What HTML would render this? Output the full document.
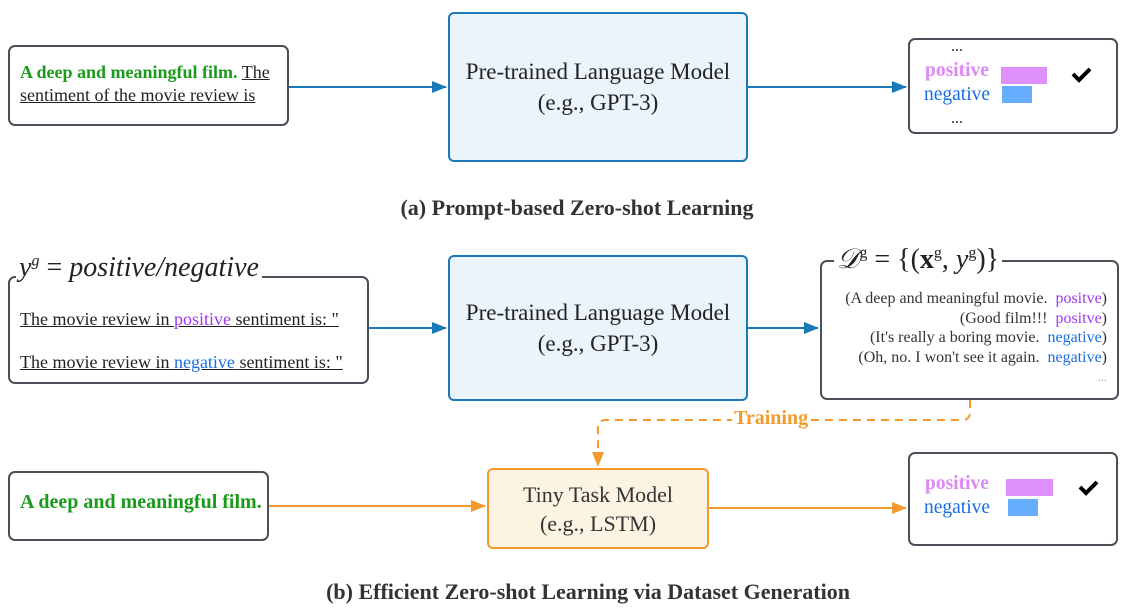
<!DOCTYPE html>
<html><head><meta charset="utf-8"><style>
body{margin:0;width:1132px;height:612px;background:#fff;position:relative;overflow:hidden;font-family:"Liberation Serif",serif;color:#222}
.b{position:absolute;box-sizing:border-box;border:2px solid #4a5058;border-radius:7px;background:#fff}
.big{position:absolute;box-sizing:border-box;border:2px solid #1a7ab5;border-radius:6px;background:#ebf4fb;display:flex;align-items:center;justify-content:center;text-align:center;font-size:23px;line-height:31px;color:#222}
.t{position:absolute;white-space:nowrap}
.cap{position:absolute;width:1132px;text-align:center;font-weight:bold;font-size:22px;color:#333}
.pos{color:#dd88f5}.neg{color:#1a6ee0}
u{text-decoration:underline}
</style></head><body>
<svg width="1132" height="612" style="position:absolute;left:0;top:0">
<defs>
<marker id="ab" markerWidth="15" markerHeight="12" refX="14" refY="6" orient="auto" markerUnits="userSpaceOnUse"><path d="M0,0L15,6L0,12z" fill="#1a7ab5"/></marker>
<marker id="ao" markerWidth="15" markerHeight="12" refX="14" refY="6" orient="auto" markerUnits="userSpaceOnUse"><path d="M0,0L15,6L0,12z" fill="#f39a2e"/></marker>
</defs>
<g stroke="#1a7ab5" stroke-width="2" fill="none">
<line x1="288" y1="87" x2="446" y2="87" marker-end="url(#ab)"/>
<line x1="748" y1="87" x2="906" y2="87" marker-end="url(#ab)"/>
<line x1="368" y1="328" x2="446" y2="328" marker-end="url(#ab)"/>
<line x1="748" y1="328" x2="818" y2="328" marker-end="url(#ab)"/>
</g>
<g stroke="#f39a2e" stroke-width="2" fill="none">
<line x1="268" y1="506" x2="485" y2="506" marker-end="url(#ao)"/>
<line x1="708" y1="508" x2="906" y2="508" marker-end="url(#ao)"/>
<path d="M970,400 V412 Q970,420 962,420 H606 Q598,420 598,428 V466" stroke-dasharray="8,6" marker-end="url(#ao)"/>
</g>
</svg>

<!-- top -->
<div class="b" style="left:8px;top:45px;width:281px;height:81px"></div>
<div class="t" style="left:20px;top:61px;font-size:18px;line-height:23px"><b style="color:#1a9a1a">A deep and meaningful film.</b> <u>The</u><br><u>sentiment of the movie review is</u></div>
<div class="big" style="left:448px;top:12px;width:300px;height:150px">Pre-trained Language Model<br>(e.g., GPT-3)</div>
<div class="b" style="left:908px;top:38px;width:210px;height:96px"></div>
<div class="t" style="left:951px;top:38px;font-size:16px">...</div>
<div class="t pos" style="left:925px;top:60px;font-size:19.5px;font-weight:bold">positive</div>
<div style="position:absolute;left:1001px;top:67px;width:46px;height:17px;background:#df8ffb"></div>
<div class="t neg" style="left:924px;top:84px;font-size:19.5px">negative</div>
<div style="position:absolute;left:1002px;top:86px;width:30px;height:17px;background:#67adfd"></div>
<div class="t" style="left:951px;top:110px;font-size:16px">...</div>
<div class="cap" style="top:195px;left:11px">(a) Prompt-based Zero-shot Learning</div>

<!-- bottom -->
<div class="b" style="left:8px;top:276px;width:361px;height:108px"></div>
<div class="t" style="left:16px;top:252px;font-size:28px;font-style:italic;background:#fff;padding:0 3px">y<sup style="font-size:16px">g</sup> <span style="font-style:normal">=</span> positive/negative</div>
<div class="t" style="left:20px;top:309px;font-size:18px"><u>The movie review in <span style="color:#a335f0">positive</span> sentiment is: "</u></div>
<div class="t" style="left:20px;top:352px;font-size:18px"><u>The movie review in <span class="neg">negative</span> sentiment is: "</u></div>
<div class="big" style="left:448px;top:255px;width:300px;height:146px">Pre-trained Language Model<br>(e.g., GPT-3)</div>
<div class="b" style="left:820px;top:260px;width:299px;height:140px"></div>
<div class="t" style="left:834px;top:244px;font-size:28px;background:#fff;padding:0 3px"><i>𝒟</i><sup style="font-size:16px">g</sup> = {(<b>x</b><sup style="font-size:16px">g</sup>, <i>y</i><sup style="font-size:16px">g</sup>)}</div>
<div class="t" style="right:25px;top:289px;font-size:16px;line-height:19.5px;text-align:right;color:#333">(A deep and meaningful movie.&nbsp; <span style="color:#a335f0">positve</span>)<br>(Good film!!!&nbsp; <span style="color:#a335f0">positve</span>)<br>(It's really a boring movie.&nbsp; <span class="neg">negative</span>)<br>(Oh, no. I won't see it again.&nbsp; <span class="neg">negative</span>)<br><span style="color:#999;font-size:12px">...</span></div>
<div class="t" style="left:732px;top:407px;font-size:20px;font-weight:bold;color:#f39a2e;background:#fff;padding:0 2px">Training</div>
<div class="b" style="left:8px;top:471px;width:261px;height:70px"></div>
<div class="t" style="left:20px;top:491px;font-size:20px;font-weight:bold;color:#1a9a1a">A deep and meaningful film.</div>
<div class="big" style="left:487px;top:468px;width:222px;height:81px;background:#fdf3e3;border-color:#f39a2e;font-size:22px;line-height:29px;color:#333">Tiny Task Model<br>(e.g., LSTM)</div>
<div class="b" style="left:908px;top:452px;width:210px;height:94px"></div>
<div class="t pos" style="left:925px;top:473px;font-size:19.5px;font-weight:bold">positive</div>
<div style="position:absolute;left:1006px;top:479px;width:47px;height:17px;background:#df8ffb"></div>
<div class="t neg" style="left:924px;top:497px;font-size:19.5px">negative</div>
<div style="position:absolute;left:1008px;top:499px;width:30px;height:17px;background:#67adfd"></div>
<div class="cap" style="top:579px;left:22px">(b) Efficient Zero-shot Learning via Dataset Generation</div>

<svg width="1132" height="612" style="position:absolute;left:0;top:0">
<path d="M1073,74 l6,6 l11,-11" stroke="#000" stroke-width="4" fill="none"/>
<path d="M1080,487 l6,6 l11,-11" stroke="#000" stroke-width="4" fill="none"/>
</svg>
</body></html>
